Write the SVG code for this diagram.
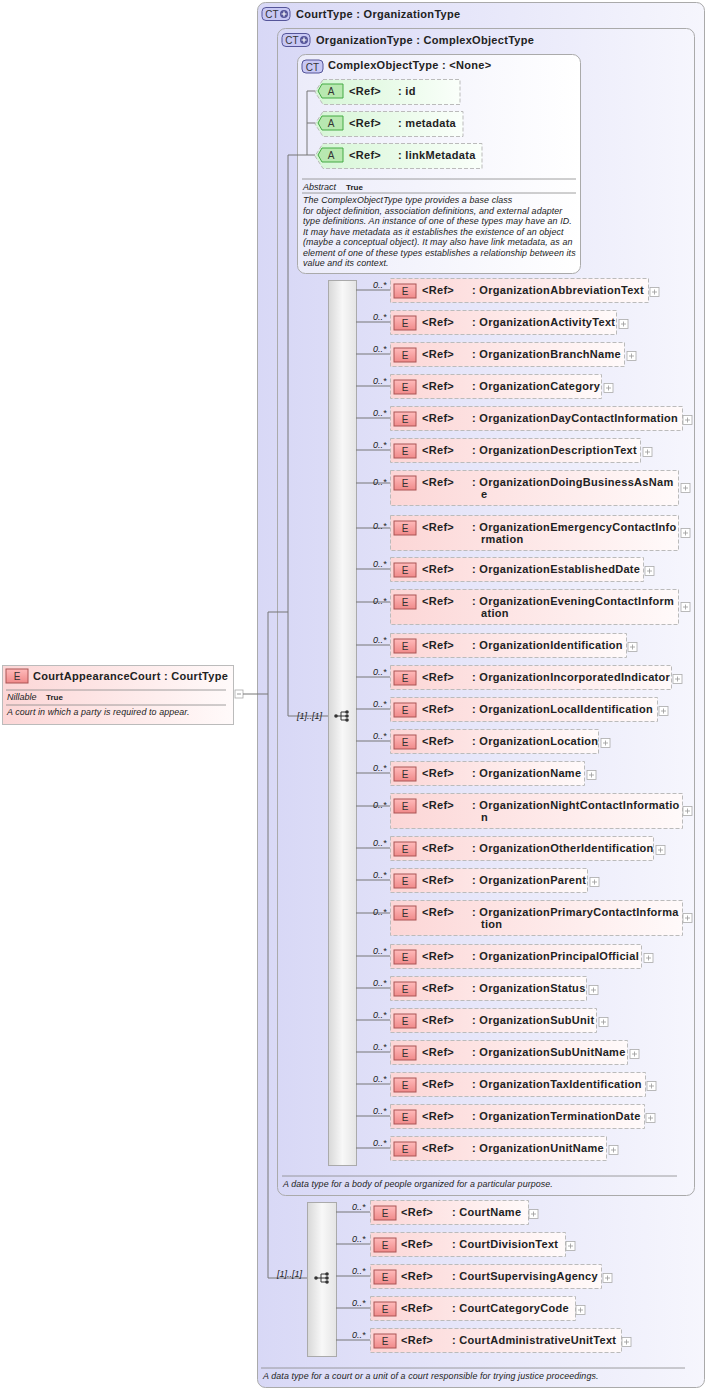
<svg xmlns="http://www.w3.org/2000/svg" xmlns:xlink="http://www.w3.org/1999/xlink" width="709" height="1391" viewBox="0 0 709 1391">
<defs>
<linearGradient id="gBg" x1="0" y1="0" x2="1" y2="0"><stop offset="0" stop-color="#d8d8f6"/><stop offset="1" stop-color="#f6f6fd"/></linearGradient>
<linearGradient id="gCx" x1="0" y1="0" x2="1" y2="0"><stop offset="0" stop-color="#ececfa"/><stop offset="1" stop-color="#ffffff"/></linearGradient>
<linearGradient id="gE" x1="0" y1="0" x2="1" y2="0"><stop offset="0" stop-color="#fcd6d6"/><stop offset="1" stop-color="#fffafa"/></linearGradient>
<linearGradient id="gA" x1="0" y1="0" x2="1" y2="0"><stop offset="0" stop-color="#d6f6d6"/><stop offset="1" stop-color="#fafffa"/></linearGradient>
<linearGradient id="gSeq" x1="0" y1="0" x2="1" y2="0"><stop offset="0" stop-color="#d8d8d8"/><stop offset="0.5" stop-color="#f8f8f8"/><stop offset="1" stop-color="#e4e4e4"/></linearGradient>
<linearGradient id="gEi" x1="0" y1="0" x2="0" y2="1"><stop offset="0" stop-color="#fbb"/><stop offset="1" stop-color="#f08a8a"/></linearGradient>
<g id="eIcon"><rect x="0" y="-7" width="22" height="14" fill="url(#gEi)" stroke="#a55" stroke-width="1"/><text x="11" y="4" class="ic">E</text></g>
<g id="plus"><rect x="0" y="-4.5" width="9" height="9" fill="#fff" stroke="#aaa" stroke-width="0.8"/><path d="M2 0h5M4.5 -2.5v5" stroke="#999" stroke-width="0.8"/></g>
<g id="aIcon"><path d="M4 -7h21v14h-21l-4 -7z" fill="#b8e8b0" stroke="#4a4" stroke-width="1"/><text x="13" y="4" class="ic">A</text></g>
<g id="seqIcon"><path d="M-6 0h5M-1 -4v8M-1 -4h5M-1 0h5M-1 4h5" stroke="#333" stroke-width="1" fill="none"/><circle cx="-6" cy="0" r="1.8" fill="#333"/><circle cx="5" cy="-4" r="1.8" fill="#333"/><circle cx="5" cy="0" r="1.8" fill="#333"/><circle cx="5" cy="4" r="1.8" fill="#333"/></g>
<g id="ctIcon"><rect x="0" y="-6.5" width="28" height="13" rx="4" fill="#c8c8f4" stroke="#559" stroke-width="1"/><text x="10" y="4" class="ic">CT</text><circle cx="22" cy="0" r="4" fill="#559"/><path d="M19.5 0h5M22 -2.5v5" stroke="#fff" stroke-width="1.2"/></g>
</defs>
<style>
text{font-family:"Liberation Sans",Arial,sans-serif;fill:#222}
.ic{font-size:10px;text-anchor:middle;fill:#333}
.t{font-size:11px;font-weight:bold;letter-spacing:0.3px}
.h{font-size:11px;font-weight:bold;letter-spacing:0.3px}
.m{font-size:9px;font-style:italic}
.d{font-size:8.9px;font-style:italic;letter-spacing:0.1px}
.eb{fill:url(#gE);stroke:#bbb;stroke-dasharray:4 2;stroke-width:1}
.ab{fill:url(#gA);stroke:#bbb;stroke-dasharray:4 2;stroke-width:1}
.ln{stroke:#777;stroke-width:1;fill:none}
.sep{stroke:#888;stroke-width:0.8}
</style>
<g id="CourtType">
<rect x="257.5" y="2.5" width="447" height="1385" rx="8" fill="url(#gBg)" stroke="#aaa"/>
<use xlink:href="#ctIcon" x="262" y="14"/>
<text x="296" y="18" class="h">CourtType : OrganizationType</text>
<line x1="261" y1="1368" x2="685" y2="1368" class="sep"/>
<text x="263" y="1379" class="d">A data type for a court or a unit of a court responsible for trying justice proceedings.</text>
</g>
<g id="OrganizationType">
<rect x="277.5" y="28.5" width="417" height="1167" rx="8" fill="url(#gBg)" stroke="#aaa"/>
<use xlink:href="#ctIcon" x="282" y="40"/>
<text x="316" y="44" class="h">OrganizationType : ComplexObjectType</text>
<line x1="282" y1="1176" x2="677" y2="1176" class="sep"/>
<text x="283" y="1187" class="d">A data type for a body of people organized for a particular purpose.</text>
</g>
<g id="ComplexObjectType">
<rect x="297.5" y="54.5" width="283" height="219" rx="8" fill="url(#gCx)" stroke="#aaa"/>
<rect x="302" y="60" width="21" height="13" rx="4" fill="#c8c8f4" stroke="#559"/><text x="312.5" y="70.5" class="ic">CT</text>
<text x="328" y="69" class="h">ComplexObjectType : &lt;None&gt;</text>
<line x1="302" y1="179" x2="576" y2="179" class="sep"/>
<text x="303" y="190" class="m">Abstract</text><text x="346" y="190" style="font-size:8px;font-weight:bold">True</text>
<line x1="302" y1="193" x2="576" y2="193" class="sep"/>
<text class="d"><tspan x="303" y="203">The ComplexObjectType type provides a base class</tspan><tspan x="303" y="213.5">for object definition, association definitions, and external adapter</tspan><tspan x="303" y="224">type definitions. An instance of one of these types may have an ID.</tspan><tspan x="303" y="234.5">It may have metadata as it establishes the existence of an object</tspan><tspan x="303" y="245">(maybe a conceptual object). It may also have link metadata, as an</tspan><tspan x="303" y="255.5">element of one of these types establishes a relationship between its</tspan><tspan x="303" y="266">value and its context.</tspan></text>
</g>
<g id="attr-id"><path d="M323 79.5h137v25h-137l-8 -12.5z" class="ab"/><use xlink:href="#aIcon" x="318" y="91"/><text x="349" y="95" class="t">&lt;Ref&gt;</text><text x="398" y="95" class="t">: id</text></g>
<g id="attr-metadata"><path d="M323 111.5h140v25h-140l-8 -12.5z" class="ab"/><use xlink:href="#aIcon" x="318" y="123"/><text x="349" y="127" class="t">&lt;Ref&gt;</text><text x="398" y="127" class="t">: metadata</text></g>
<g id="attr-linkMetadata"><path d="M323 143.5h159v25h-159l-8 -12.5z" class="ab"/><use xlink:href="#aIcon" x="318" y="155"/><text x="349" y="159" class="t">&lt;Ref&gt;</text><text x="398" y="159" class="t">: linkMetadata</text></g>
<g id="CourtAppearanceCourt">
<rect x="2.5" y="665.5" width="231" height="59" fill="url(#gE)" stroke="#bbb"/>
<use xlink:href="#eIcon" x="6" y="676"/>
<text x="33" y="680" class="t">CourtAppearanceCourt : CourtType</text>
<line x1="6" y1="690" x2="226" y2="690" class="sep"/>
<text x="7" y="700" class="m">Nillable</text><text x="46" y="700" style="font-size:8px;font-weight:bold">True</text>
<line x1="6" y1="705" x2="226" y2="705" class="sep"/>
<text x="7" y="715" class="d">A court in which a party is required to appear.</text>
<rect x="235" y="690" width="8" height="8" fill="#fff" stroke="#aaa" stroke-width="0.8"/><path d="M237 694h4" stroke="#999"/>
</g>
<g id="seqOrg"><rect x="328.5" y="280.5" width="28" height="885" fill="url(#gSeq)" stroke="#aaa"/><use xlink:href="#seqIcon" x="342" y="716"/></g>
<g id="seqCourt"><rect x="307.5" y="1202.5" width="29" height="154" fill="url(#gSeq)" stroke="#aaa"/><use xlink:href="#seqIcon" x="322" y="1278"/></g>
<g id="connectors" class="ln">
<path d="M243 694H268M268 612V1278H307M268 612H288M288 155V716H328M288 155H307M307 91V155M307 91H315M307 123H315M307 155H315"/>
<path d="M356 290H390M356 322H390M356 354H390M356 386H390M356 418H390M356 450H390M356 483H390M356 528H390M356 569H390M356 602H390M356 645H390M356 677H390M356 709H390M356 741H390M356 773H390M356 806H390M356 848H390M356 880H390M356 913H390M356 956H390M356 988H390M356 1020H390M356 1052H390M356 1084H390M356 1116H390M356 1148H390"/>
<path d="M336 1212H370M336 1244H370M336 1276H370M336 1308H370M336 1340H370"/>
</g>
<g id="labels" class="m">
<text x="297" y="719" class="m">[1]..[1]</text><text x="277" y="1277" class="m">[1]..[1]</text>
<text x="373" y="288" class="m">0..*</text><text x="373" y="320" class="m">0..*</text><text x="373" y="352" class="m">0..*</text><text x="373" y="384" class="m">0..*</text><text x="373" y="416" class="m">0..*</text><text x="373" y="448" class="m">0..*</text><text x="373" y="485" class="m">0..*</text><text x="373" y="529" class="m">0..*</text><text x="373" y="567" class="m">0..*</text><text x="373" y="604" class="m">0..*</text><text x="373" y="643" class="m">0..*</text><text x="373" y="675" class="m">0..*</text><text x="373" y="707" class="m">0..*</text><text x="373" y="739" class="m">0..*</text><text x="373" y="771" class="m">0..*</text><text x="373" y="808" class="m">0..*</text><text x="373" y="846" class="m">0..*</text><text x="373" y="878" class="m">0..*</text><text x="373" y="915" class="m">0..*</text><text x="373" y="954" class="m">0..*</text><text x="373" y="986" class="m">0..*</text><text x="373" y="1018" class="m">0..*</text><text x="373" y="1050" class="m">0..*</text><text x="373" y="1082" class="m">0..*</text><text x="373" y="1114" class="m">0..*</text><text x="373" y="1146" class="m">0..*</text>
<text x="352" y="1210" class="m">0..*</text><text x="352" y="1242" class="m">0..*</text><text x="352" y="1274" class="m">0..*</text><text x="352" y="1306" class="m">0..*</text><text x="352" y="1338" class="m">0..*</text>
</g>
<g id="e1"><rect x="390.5" y="278.5" width="258" height="24" class="eb"/><use xlink:href="#eIcon" x="394" y="291"/><text x="422" y="294" class="t">&lt;Ref&gt;</text><text x="472" y="294" class="t">: OrganizationAbbreviationText</text><use xlink:href="#plus" x="650" y="292"/></g>
<g id="e2"><rect x="390.5" y="310.5" width="226" height="24" class="eb"/><use xlink:href="#eIcon" x="394" y="323"/><text x="422" y="326" class="t">&lt;Ref&gt;</text><text x="472" y="326" class="t">: OrganizationActivityText</text><use xlink:href="#plus" x="619" y="324"/></g>
<g id="e3"><rect x="390.5" y="342.5" width="234" height="24" class="eb"/><use xlink:href="#eIcon" x="394" y="355"/><text x="422" y="358" class="t">&lt;Ref&gt;</text><text x="472" y="358" class="t">: OrganizationBranchName</text><use xlink:href="#plus" x="627" y="356"/></g>
<g id="e4"><rect x="390.5" y="374.5" width="211" height="24" class="eb"/><use xlink:href="#eIcon" x="394" y="387"/><text x="422" y="390" class="t">&lt;Ref&gt;</text><text x="472" y="390" class="t">: OrganizationCategory</text><use xlink:href="#plus" x="604" y="388"/></g>
<g id="e5"><rect x="390.5" y="406.5" width="292" height="24" class="eb"/><use xlink:href="#eIcon" x="394" y="419"/><text x="422" y="422" class="t">&lt;Ref&gt;</text><text x="472" y="422" class="t">: OrganizationDayContactInformation</text><use xlink:href="#plus" x="683" y="420"/></g>
<g id="e6"><rect x="390.5" y="438.5" width="250" height="24" class="eb"/><use xlink:href="#eIcon" x="394" y="451"/><text x="422" y="454" class="t">&lt;Ref&gt;</text><text x="472" y="454" class="t">: OrganizationDescriptionText</text><use xlink:href="#plus" x="643" y="452"/></g>
<g id="e7"><rect x="390.5" y="470.5" width="288" height="35" class="eb"/><use xlink:href="#eIcon" x="394" y="483"/><text x="422" y="486" class="t">&lt;Ref&gt;</text><text x="472" y="486" class="t">: OrganizationDoingBusinessAsNam</text><text x="481" y="498" class="t">e</text><use xlink:href="#plus" x="681" y="488"/></g>
<g id="e8"><rect x="390.5" y="515.5" width="288" height="35" class="eb"/><use xlink:href="#eIcon" x="394" y="528"/><text x="422" y="531" class="t">&lt;Ref&gt;</text><text x="472" y="531" class="t">: OrganizationEmergencyContactInfo</text><text x="481" y="543" class="t">rmation</text><use xlink:href="#plus" x="681" y="533"/></g>
<g id="e9"><rect x="390.5" y="557.5" width="253" height="24" class="eb"/><use xlink:href="#eIcon" x="394" y="570"/><text x="422" y="573" class="t">&lt;Ref&gt;</text><text x="472" y="573" class="t">: OrganizationEstablishedDate</text><use xlink:href="#plus" x="645" y="571"/></g>
<g id="e10"><rect x="390.5" y="589.5" width="288" height="35" class="eb"/><use xlink:href="#eIcon" x="394" y="602"/><text x="422" y="605" class="t">&lt;Ref&gt;</text><text x="472" y="605" class="t">: OrganizationEveningContactInform</text><text x="481" y="617" class="t">ation</text><use xlink:href="#plus" x="681" y="607"/></g>
<g id="e11"><rect x="390.5" y="633.5" width="236" height="24" class="eb"/><use xlink:href="#eIcon" x="394" y="646"/><text x="422" y="649" class="t">&lt;Ref&gt;</text><text x="472" y="649" class="t">: OrganizationIdentification</text><use xlink:href="#plus" x="628" y="647"/></g>
<g id="e12"><rect x="390.5" y="665.5" width="281" height="24" class="eb"/><use xlink:href="#eIcon" x="394" y="678"/><text x="422" y="681" class="t">&lt;Ref&gt;</text><text x="472" y="681" class="t">: OrganizationIncorporatedIndicator</text><use xlink:href="#plus" x="673" y="679"/></g>
<g id="e13"><rect x="390.5" y="697.5" width="267" height="24" class="eb"/><use xlink:href="#eIcon" x="394" y="710"/><text x="422" y="713" class="t">&lt;Ref&gt;</text><text x="472" y="713" class="t">: OrganizationLocalIdentification</text><use xlink:href="#plus" x="659" y="711"/></g>
<g id="e14"><rect x="390.5" y="729.5" width="208" height="24" class="eb"/><use xlink:href="#eIcon" x="394" y="742"/><text x="422" y="745" class="t">&lt;Ref&gt;</text><text x="472" y="745" class="t">: OrganizationLocation</text><use xlink:href="#plus" x="601" y="743"/></g>
<g id="e15"><rect x="390.5" y="761.5" width="194" height="24" class="eb"/><use xlink:href="#eIcon" x="394" y="774"/><text x="422" y="777" class="t">&lt;Ref&gt;</text><text x="472" y="777" class="t">: OrganizationName</text><use xlink:href="#plus" x="587" y="775"/></g>
<g id="e16"><rect x="390.5" y="793.5" width="292" height="35" class="eb"/><use xlink:href="#eIcon" x="394" y="806"/><text x="422" y="809" class="t">&lt;Ref&gt;</text><text x="472" y="809" class="t">: OrganizationNightContactInformatio</text><text x="481" y="821" class="t">n</text><use xlink:href="#plus" x="683" y="811"/></g>
<g id="e17"><rect x="390.5" y="836.5" width="263" height="24" class="eb"/><use xlink:href="#eIcon" x="394" y="849"/><text x="422" y="852" class="t">&lt;Ref&gt;</text><text x="472" y="852" class="t">: OrganizationOtherIdentification</text><use xlink:href="#plus" x="656" y="850"/></g>
<g id="e18"><rect x="390.5" y="868.5" width="197" height="24" class="eb"/><use xlink:href="#eIcon" x="394" y="881"/><text x="422" y="884" class="t">&lt;Ref&gt;</text><text x="472" y="884" class="t">: OrganizationParent</text><use xlink:href="#plus" x="590" y="882"/></g>
<g id="e19"><rect x="390.5" y="900.5" width="292" height="35" class="eb"/><use xlink:href="#eIcon" x="394" y="913"/><text x="422" y="916" class="t">&lt;Ref&gt;</text><text x="472" y="916" class="t">: OrganizationPrimaryContactInforma</text><text x="481" y="928" class="t">tion</text><use xlink:href="#plus" x="683" y="918"/></g>
<g id="e20"><rect x="390.5" y="944.5" width="251" height="24" class="eb"/><use xlink:href="#eIcon" x="394" y="957"/><text x="422" y="960" class="t">&lt;Ref&gt;</text><text x="472" y="960" class="t">: OrganizationPrincipalOfficial</text><use xlink:href="#plus" x="644" y="958"/></g>
<g id="e21"><rect x="390.5" y="976.5" width="196" height="24" class="eb"/><use xlink:href="#eIcon" x="394" y="989"/><text x="422" y="992" class="t">&lt;Ref&gt;</text><text x="472" y="992" class="t">: OrganizationStatus</text><use xlink:href="#plus" x="589" y="990"/></g>
<g id="e22"><rect x="390.5" y="1008.5" width="206" height="24" class="eb"/><use xlink:href="#eIcon" x="394" y="1021"/><text x="422" y="1024" class="t">&lt;Ref&gt;</text><text x="472" y="1024" class="t">: OrganizationSubUnit</text><use xlink:href="#plus" x="599" y="1022"/></g>
<g id="e23"><rect x="390.5" y="1040.5" width="237" height="24" class="eb"/><use xlink:href="#eIcon" x="394" y="1053"/><text x="422" y="1056" class="t">&lt;Ref&gt;</text><text x="472" y="1056" class="t">: OrganizationSubUnitName</text><use xlink:href="#plus" x="630" y="1054"/></g>
<g id="e24"><rect x="390.5" y="1072.5" width="255" height="24" class="eb"/><use xlink:href="#eIcon" x="394" y="1085"/><text x="422" y="1088" class="t">&lt;Ref&gt;</text><text x="472" y="1088" class="t">: OrganizationTaxIdentification</text><use xlink:href="#plus" x="647" y="1086"/></g>
<g id="e25"><rect x="390.5" y="1104.5" width="254" height="24" class="eb"/><use xlink:href="#eIcon" x="394" y="1117"/><text x="422" y="1120" class="t">&lt;Ref&gt;</text><text x="472" y="1120" class="t">: OrganizationTerminationDate</text><use xlink:href="#plus" x="646" y="1118"/></g>
<g id="e26"><rect x="390.5" y="1136.5" width="216" height="24" class="eb"/><use xlink:href="#eIcon" x="394" y="1149"/><text x="422" y="1152" class="t">&lt;Ref&gt;</text><text x="472" y="1152" class="t">: OrganizationUnitName</text><use xlink:href="#plus" x="609" y="1150"/></g>
<g id="c1"><rect x="370.5" y="1200.5" width="158" height="24" class="eb"/><use xlink:href="#eIcon" x="374" y="1213"/><text x="401" y="1216" class="t">&lt;Ref&gt;</text><text x="452" y="1216" class="t">: CourtName</text><use xlink:href="#plus" x="529" y="1214"/></g>
<g id="c2"><rect x="370.5" y="1232.5" width="195" height="24" class="eb"/><use xlink:href="#eIcon" x="374" y="1245"/><text x="401" y="1248" class="t">&lt;Ref&gt;</text><text x="452" y="1248" class="t">: CourtDivisionText</text><use xlink:href="#plus" x="566" y="1246"/></g>
<g id="c3"><rect x="370.5" y="1264.5" width="231" height="24" class="eb"/><use xlink:href="#eIcon" x="374" y="1277"/><text x="401" y="1280" class="t">&lt;Ref&gt;</text><text x="452" y="1280" class="t">: CourtSupervisingAgency</text><use xlink:href="#plus" x="603" y="1278"/></g>
<g id="c4"><rect x="370.5" y="1296.5" width="205" height="24" class="eb"/><use xlink:href="#eIcon" x="374" y="1309"/><text x="401" y="1312" class="t">&lt;Ref&gt;</text><text x="452" y="1312" class="t">: CourtCategoryCode</text><use xlink:href="#plus" x="576" y="1310"/></g>
<g id="c5"><rect x="370.5" y="1328.5" width="251" height="24" class="eb"/><use xlink:href="#eIcon" x="374" y="1341"/><text x="401" y="1344" class="t">&lt;Ref&gt;</text><text x="452" y="1344" class="t">: CourtAdministrativeUnitText</text><use xlink:href="#plus" x="622" y="1342"/></g>
</svg>
